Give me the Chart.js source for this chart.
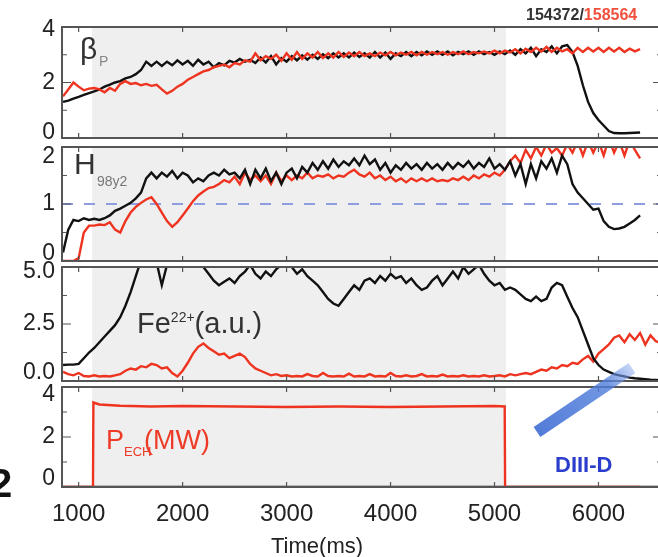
<!DOCTYPE html>
<html>
<head>
<meta charset="utf-8">
<script src="https://cdn.jsdelivr.net/npm/chart.js@4"></script>
<style>
  html, body { margin: 0; padding: 0; background: #fff; }
  body { width: 658px; height: 557px; overflow: hidden; position: relative;
         font-family: "Liberation Sans", Arial, sans-serif; color: #222; }
  canvas { position: absolute; left: 0; }
  .lbl { position: absolute; white-space: nowrap; line-height: 1; }
  svg { position: absolute; left: 0; top: 0; }
</style>
</head>
<body>
<canvas id="pBeta"></canvas>
<canvas id="pH98"></canvas>
<canvas id="pFe"></canvas>
<canvas id="pEch"></canvas>

<svg width="658" height="557">
  <defs>
    <linearGradient id="arrowFade" x1="537" y1="432" x2="632" y2="368" gradientUnits="userSpaceOnUse">
      <stop offset="0" stop-color="#3f6dd4" stop-opacity="0.9"/>
      <stop offset="0.75" stop-color="#4f7ddb" stop-opacity="0.8"/>
      <stop offset="1" stop-color="#8aa9ec" stop-opacity="0.5"/>
    </linearGradient>
  </defs>
  <line x1="537" y1="432" x2="632" y2="368" stroke="url(#arrowFade)" stroke-width="12"/>
</svg>

<div class="lbl" style="left:526px;top:7px;font-size:16px;font-weight:bold;color:#333">154372/<span style="color:#f0503c">158564</span></div>
<div class="lbl" style="left:80px;top:34px;font-size:30px;color:#333">β</div>
<div class="lbl" style="left:99px;top:54px;font-size:14px;color:#888">P</div>
<div class="lbl" style="left:74px;top:149px;font-size:30px;color:#333">H</div>
<div class="lbl" style="left:97px;top:174px;font-size:14px;color:#777">98y2</div>
<div class="lbl" style="left:137px;top:309px;font-size:29px;color:#333">Fe<span style="font-size:14px;vertical-align:11px">22+</span>(a.u.)</div>
<div class="lbl" style="left:106px;top:427px;font-size:27px;color:#ee3b28">P</div>
<div class="lbl" style="left:124px;top:445px;font-size:13px;color:#ee3b28">ECH</div>
<div class="lbl" style="left:144px;top:427px;font-size:27px;color:#ee3b28">(MW)</div>
<div class="lbl" style="left:555px;top:454px;font-size:22px;font-weight:bold;color:#2b3dcc">DIII-D</div>
<div class="lbl" style="left:271px;top:535px;font-size:22px;color:#222">Time(ms)</div>
<div class="lbl" style="left:-10px;top:463px;font-size:40px;font-weight:bold;color:#111">2</div>

<script>
// shot traces sampled every 50 ms
const time = [
  850, 900, 950, 1000, 1050, 1100, 1150, 1200, 1250, 1300,
  1350, 1400, 1450, 1500, 1550, 1600, 1650, 1700, 1750, 1800,
  1850, 1900, 1950, 2000, 2050, 2100, 2150, 2200, 2250, 2300,
  2350, 2400, 2450, 2500, 2550, 2600, 2650, 2700, 2750, 2800,
  2850, 2900, 2950, 3000, 3050, 3100, 3150, 3200, 3250, 3300,
  3350, 3400, 3450, 3500, 3550, 3600, 3650, 3700, 3750, 3800,
  3850, 3900, 3950, 4000, 4050, 4100, 4150, 4200, 4250, 4300,
  4350, 4400, 4450, 4500, 4550, 4600, 4650, 4700, 4750, 4800,
  4850, 4900, 4950, 5000, 5050, 5100, 5150, 5200, 5250, 5300,
  5350, 5400, 5450, 5500, 5550, 5600, 5650, 5700, 5750, 5800,
  5850, 5900, 5950, 6000, 6050, 6100, 6150, 6200, 6250, 6300,
  6350, 6400, 6450, 6500, 6550, 6600
];

// beta_P, shot 154372 (black) and 158564 (red)
const betaBlack = [
  1.30, 1.35, 1.42, 1.48, 1.55, 1.62, 1.68, 1.75, 1.85, 1.92,
  2.00, 2.05, 2.15, 2.20, 2.30, 2.45, 2.75, 2.60, 2.75, 2.60,
  2.75, 2.62, 2.80, 2.65, 2.78, 2.60, 2.82, 2.65, 2.75, 2.55,
  2.70, 2.62, 2.78, 2.72, 2.85, 2.75, 2.82, 2.70, 2.90, 2.72,
  2.95, 2.65, 2.88, 2.75, 2.95, 2.80, 2.98, 2.82, 3.00, 2.85,
  3.02, 2.88, 3.05, 2.90, 3.05, 2.90, 3.08, 2.92, 3.05, 2.90,
  3.10, 2.90, 3.08, 2.85, 3.05, 2.95, 3.10, 2.95, 3.10, 2.98,
  3.12, 3.00, 3.12, 3.00, 3.12, 2.98, 3.10, 3.02, 3.12, 3.00,
  3.12, 3.02, 3.10, 3.00, 3.12, 3.02, 3.15, 3.00, 3.20, 3.05,
  3.25, 2.95, 3.20, 3.10, 3.30, 3.05, 3.30, 3.35, 3.10, 2.60,
  1.90, 1.30, 0.90, 0.65, 0.45, 0.25, 0.18, 0.17, 0.17, 0.18,
  0.19, 0.20, null, null, null, null
];
const betaRed = [
  1.50, 1.75, 2.00, 1.85, 1.72, 1.78, 1.80, 1.75, 1.65, 1.80,
  1.70, 1.95, 2.05, 1.95, 1.98, 1.90, 1.95, 1.88, 1.92, 1.75,
  1.60, 1.70, 1.85, 1.95, 2.10, 2.20, 2.30, 2.40, 2.45, 2.55,
  2.60, 2.65, 2.55, 2.70, 2.65, 2.80, 2.75, 3.05, 2.80, 2.95,
  2.85, 3.00, 2.78, 3.05, 2.82, 3.10, 2.85, 3.05, 2.90, 3.10,
  2.88, 3.05, 2.90, 3.10, 2.92, 3.08, 2.95, 3.10, 2.95, 3.05,
  2.95, 3.08, 2.98, 3.10, 2.98, 3.08, 3.00, 3.10, 2.98, 3.10,
  3.00, 3.10, 3.02, 3.10, 3.00, 3.10, 3.02, 3.12, 3.02, 3.10,
  3.05, 3.12, 3.05, 3.15, 3.05, 3.15, 3.08, 3.20, 3.05, 3.22,
  3.10, 3.25, 3.12, 3.28, 3.10, 3.25, 3.12, 3.20, 3.05, 3.25,
  3.10, 3.25, 3.12, 3.25, 3.10, 3.25, 3.12, 3.25, 3.10, 3.22,
  3.12, 3.20, null, null, null, null
];

// H_98y2 confinement factor
const h98Black = [
  0.15, 0.55, 0.72, 0.70, 0.75, 0.72, 0.74, 0.72, 0.75, 0.80,
  0.88, 0.92, 0.97, 1.02, 1.10, 1.20, 1.45, 1.55, 1.45, 1.55,
  1.48, 1.58, 1.45, 1.55, 1.50, 1.38, 1.45, 1.40, 1.50, 1.55,
  1.50, 1.60, 1.52, 1.55, 1.45, 1.60, 1.35, 1.60, 1.45, 1.62,
  1.40, 1.55, 1.35, 1.55, 1.62, 1.45, 1.65, 1.55, 1.72, 1.60,
  1.75, 1.62, 1.78, 1.65, 1.75, 1.68, 1.80, 1.68, 1.85, 1.70,
  1.78, 1.60, 1.72, 1.55, 1.68, 1.60, 1.72, 1.62, 1.70, 1.60,
  1.72, 1.62, 1.70, 1.60, 1.72, 1.62, 1.72, 1.65, 1.75, 1.62,
  1.72, 1.65, 1.80, 1.62, 1.70, 1.60, 1.75, 1.50, 1.70, 1.35,
  1.70, 1.45, 1.75, 1.62, 1.80, 1.55, 1.85, 1.70, 1.35, 1.20,
  1.10, 1.00, 0.90, 0.92, 0.70, 0.60, 0.56, 0.57, 0.60, 0.66,
  0.72, 0.80, null, null, null, null
];
const h98Red = [
  0.00, 0.00, 0.00, 0.05, 0.50, 0.62, 0.62, 0.64, 0.63, 0.68,
  0.55, 0.50, 0.70, 0.85, 0.95, 1.02, 1.08, 1.12, 1.00, 0.85,
  0.70, 0.60, 0.68, 0.80, 0.92, 1.05, 1.15, 1.22, 1.28, 1.30,
  1.35, 1.42, 1.38, 1.48, 1.35, 1.55, 1.42, 1.50, 1.40, 1.50,
  1.35, 1.55, 1.40, 1.50, 1.42, 1.50, 1.45, 1.55, 1.45, 1.50,
  1.48, 1.52, 1.45, 1.50, 1.48, 1.55, 1.60, 1.52, 1.48, 1.55,
  1.45, 1.50, 1.42, 1.48, 1.40, 1.45, 1.38, 1.45, 1.40, 1.45,
  1.40, 1.45, 1.40, 1.42, 1.40, 1.45, 1.42, 1.48, 1.42, 1.50,
  1.45, 1.52, 1.48, 1.55, 1.50, 1.60, 1.75, 1.85, 1.72, 1.95,
  1.80, 2.00, 1.85, 2.05, 1.90, 1.98, 1.85, 2.05, 1.90, 2.10,
  1.85, 2.10, 1.90, 2.10, 1.85, 2.15, 1.90, 2.10, 1.85, 2.12,
  1.95, 1.80, null, null, null, null
];
const h98Ref = 1;

// Fe22+ line brightness (a.u.)
const feBlack = [
  0.70, 0.72, 0.72, 0.75, 1.00, 1.25, 1.45, 1.70, 1.95, 2.20,
  2.45, 2.80, 3.30, 3.90, 4.60, 5.30, 5.50, 5.40, 5.20, 4.20,
  5.10, 5.50, 5.60, 5.50, 5.40, 5.50, 5.30, 5.00, 4.70, 4.40,
  4.20, 4.35, 4.50, 4.30, 4.60, 4.80, 5.10, 4.70, 4.50, 4.80,
  4.60, 4.90, 5.10, 5.30, 5.00, 4.70, 4.90, 4.60, 4.40, 4.20,
  3.90, 3.60, 3.40, 3.30, 3.60, 3.90, 4.20, 4.00, 4.40, 4.50,
  4.30, 4.60, 4.40, 4.70, 4.50, 4.60, 4.30, 4.50, 4.20, 4.00,
  4.10, 4.40, 4.60, 4.20, 4.50, 4.80, 4.50, 5.00, 4.70, 4.90,
  5.10, 4.70, 4.40, 4.20, 4.30, 4.00, 4.10, 4.00, 3.80, 3.60,
  3.50, 3.70, 3.50, 3.60, 4.10, 4.30, 4.20, 3.70, 3.20, 2.80,
  2.20, 1.60, 1.00, 0.70, 0.50, 0.40, 0.30, 0.25, 0.20, 0.15,
  0.12, 0.10, 0.08, 0.06, 0.05, 0.04
];
const feRed = [
  0.40, 0.30, 0.25, 0.35, 0.22, 0.20, 0.25, 0.20, 0.22, 0.20,
  0.25, 0.30, 0.45, 0.55, 0.50, 0.65, 0.60, 0.75, 0.70, 0.55,
  0.60, 0.35, 0.20, 0.45, 0.80, 1.20, 1.50, 1.65, 1.45, 1.30,
  1.15, 1.20, 1.00, 1.10, 1.20, 1.05, 0.75, 0.55, 0.45, 0.35,
  0.25, 0.30, 0.22, 0.25, 0.20, 0.22, 0.20, 0.30, 0.22, 0.20,
  0.35, 0.22, 0.20, 0.22, 0.20, 0.32, 0.20, 0.22, 0.20, 0.30,
  0.20, 0.22, 0.20, 0.35, 0.22, 0.20, 0.25, 0.20, 0.22, 0.30,
  0.20, 0.22, 0.20, 0.28, 0.20, 0.22, 0.20, 0.25, 0.20, 0.22,
  0.20, 0.25, 0.20, 0.22, 0.25, 0.20, 0.30, 0.25, 0.30, 0.35,
  0.30, 0.40, 0.50, 0.45, 0.60, 0.55, 0.70, 0.65, 0.80, 0.75,
  0.95, 1.10, 0.85, 1.20, 1.40, 1.60, 1.90, 2.00, 1.70, 2.05,
  1.80, 2.10, 1.60, 2.00, 1.75, 1.65
];

// ECH power (MW), step waveform with its own time base
const echTime  = [840, 1138, 1142, 1200, 1400, 1700, 2000, 2500, 3000, 3500, 4000, 4500, 5000, 5098, 5102, 6400];
const echRed   = [0, 0, 3.38, 3.30, 3.25, 3.22, 3.24, 3.22, 3.20, 3.22, 3.20, 3.22, 3.24, 3.22, 0, 0];
const echBlackTime = [840, 6611];
const echBlack = [0, 0];

// ECH window shading and shared time axis
const echOn = 1130, echOff = 5110;
const xMin = 840, xMax = 6611;
const xTicks = [1000, 2000, 3000, 4000, 5000, 6000];

const RED = '#ee3420', BLACK = '#111';
const FONT = '"Liberation Sans", Arial, sans-serif';

const pts = (xs, ys) => xs.map((x, i) => ({ x, y: ys[i] }));

const panelDecor = {
  id: 'panelDecor',
  beforeDatasetsDraw(chart) {
    const { ctx, chartArea: a, scales: { x } } = chart;
    ctx.save();
    ctx.fillStyle = '#efefef';
    const x0 = x.getPixelForValue(echOn), x1 = x.getPixelForValue(echOff);
    ctx.fillRect(x0, a.top, x1 - x0, a.bottom - a.top);
    ctx.restore();
  },
  afterDatasetsDraw(chart, args, opts) {
    const { ctx, chartArea: a, scales: { x, y } } = chart;
    ctx.save();
    ctx.strokeStyle = '#555';
    ctx.lineWidth = 2;
    ctx.strokeRect(a.left, a.top, a.right - a.left, a.bottom - a.top);
    ctx.lineWidth = 1.2;
    ctx.beginPath();
    opts.ticks.forEach(v => {
      const py = y.getPixelForValue(v);
      ctx.moveTo(a.left, py); ctx.lineTo(a.left + 9, py);
      ctx.moveTo(a.right, py); ctx.lineTo(a.right - 9, py);
    });
    opts.minor.forEach(v => {
      const py = y.getPixelForValue(v);
      ctx.moveTo(a.left, py); ctx.lineTo(a.left + 5, py);
      ctx.moveTo(a.right, py); ctx.lineTo(a.right - 5, py);
    });
    xTicks.forEach(v => {
      const px = x.getPixelForValue(v);
      ctx.moveTo(px, a.top); ctx.lineTo(px, a.top + 5);
      ctx.moveTo(px, a.bottom); ctx.lineTo(px, a.bottom - 5);
    });
    ctx.stroke();

    // y tick labels, nudged inside the frame at the ends
    ctx.fillStyle = '#222';
    ctx.font = '23px ' + FONT;
    ctx.textAlign = 'right';
    ctx.textBaseline = 'middle';
    opts.ticks.forEach((v, i) => {
      let py = y.getPixelForValue(v);
      py = Math.min(Math.max(py, a.top + opts.shift[0]), a.bottom - opts.shift[1]);
      ctx.fillText(opts.labels[i], a.left - 7, py);
    });
    ctx.restore();
  }
};

function makePanel(cfg, datasets, showX) {
  const el = document.getElementById(cfg.id);
  const padTop = 14, padBottom = showX ? 0 : 14, axisH = showX ? 44 : 0;
  el.width = 662;
  el.height = (cfg.bottom - cfg.top) + padTop + padBottom + axisH;
  el.style.top = (cfg.top - padTop) + 'px';
  return new Chart(el, {
    type: 'line',
    data: { datasets },
    options: {
      responsive: false,
      animation: false,
      devicePixelRatio: 1,
      layout: { padding: { top: padTop, bottom: padBottom, left: 0, right: 0 } },
      elements: { point: { radius: 0 }, line: { tension: 0, borderWidth: 2.4 } },
      datasets: { line: { clip: 0 } },
      plugins: {
        legend: { display: false },
        tooltip: { enabled: false },
        panelDecor: { ticks: cfg.ticks, labels: cfg.labels, minor: cfg.minor, shift: cfg.shift }
      },
      scales: {
        x: {
          type: 'linear', min: xMin, max: xMax, display: showX,
          grid: { display: false, drawTicks: false },
          border: { display: false },
          afterBuildTicks: s => { s.ticks = xTicks.map(v => ({ value: v })); },
          afterFit: s => { s.height = axisH; },
          ticks: {
            font: { family: FONT, size: 24 }, color: '#222', padding: 13,
            maxRotation: 0, autoSkip: false, callback: v => String(v)
          }
        },
        y: {
          min: cfg.min, max: cfg.max,
          ticks: { display: false },
          grid: { display: false },
          border: { display: false },
          afterFit: s => { s.width = 62; }
        }
      }
    },
    plugins: [panelDecor]
  });
}

const line = (data, color, extra) => Object.assign({ data, borderColor: color, borderWidth: 2.4 }, extra || {});

makePanel(
  { id: 'pBeta', top: 27, bottom: 138, min: 0, max: 4, ticks: [0, 2, 4], labels: ['0', '2', '4'], minor: [1, 3], shift: [3, 5] },
  [line(pts(time, betaRed), RED), line(pts(time, betaBlack), BLACK)],
  false
);

makePanel(
  { id: 'pH98', top: 147, bottom: 261, min: 0, max: 2, ticks: [0, 1, 2], labels: ['0', '1', '2'], minor: [0.5, 1.5], shift: [10, 7] },
  [
    line(pts(time, h98Black), BLACK),
    line(pts(time, h98Red), RED),
    line([{ x: xMin, y: h98Ref }, { x: xMax, y: h98Ref }], '#8e9ce2', { borderDash: [11, 11], borderWidth: 2 })
  ],
  false
);

makePanel(
  { id: 'pFe', top: 267, bottom: 381, min: 0, max: 5, ticks: [0, 2.5, 5], labels: ['0.0', '2.5', '5.0'], minor: [1.25, 3.75], shift: [5, 8] },
  [line(pts(time, feBlack), BLACK), line(pts(time, feRed), RED)],
  false
);

makePanel(
  { id: 'pEch', top: 387, bottom: 487, min: 0, max: 4, ticks: [0, 2, 4], labels: ['0', '2', '4'], minor: [1, 3], shift: [8, 8] },
  [line(pts(echTime, echRed), RED), line(pts(echBlackTime, echBlack), BLACK)],
  true
);
</script>
</body>
</html>
